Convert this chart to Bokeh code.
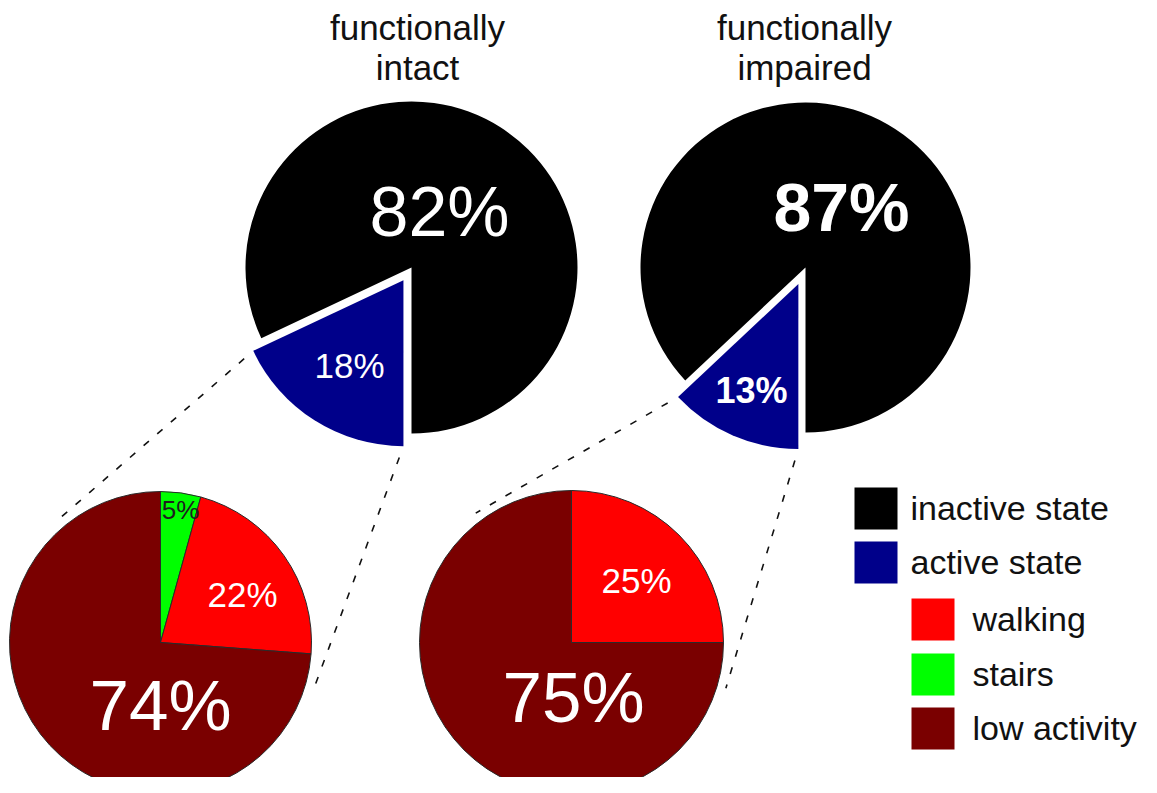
import math
from bokeh.plotting import figure
from bokeh.models import Range1d
from bokeh.core.properties import value
from bokeh.embed import file_html
from bokeh.resources import INLINE

# ---------------- data ----------------
group_titles = [["functionally", "intact"], ["functionally", "impaired"]]
inactive_pct = [82, 87]
active_pct = [18, 13]
inactive_text = ["82%", "87%"]
active_text = ["18%", "13%"]
label_bold = [False, True]

# breakdown of the active state, clockwise from 12 o'clock: stairs, walking, low activity
sub_names = ["stairs", "walking", "low activity"]
intact_sub = [4.3, 21.9, 73.8]
impaired_sub = [0.0, 25.0, 75.0]
intact_sub_text = ["5%", "22%", "74%"]
impaired_sub_text = ["", "25%", "75%"]

legend_names = ["inactive state", "active state", "walking", "stairs", "low activity"]

# ---------------- style ----------------
C_INACTIVE = "#000000"
C_ACTIVE = "#00008a"
C_WALK = "#ff0000"
C_STAIRS = "#00ff00"
C_LOW = "#7a0000"
sub_colors = [C_STAIRS, C_WALK, C_LOW]
legend_colors = [C_INACTIVE, C_ACTIVE, C_WALK, C_STAIRS, C_LOW]
FONT = value("Liberation Sans")

W, H = 1157, 793
PW, PH = W - 16, H - 16


def Y(py):
    return H - py


p = figure(width=PW, height=PH, output_backend="svg", toolbar_location=None,
           x_range=Range1d(0, PW), y_range=Range1d(H - PH, H), min_border=0)
p.axis.visible = False
p.grid.visible = False
p.outline_line_color = None
p.background_fill_color = "white"

# layout
top_centers = [(411, 267), (805, 267)]
top_r = [166, 165]
explode = [15, 18]
sub_centers = [(160, 642), (571, 642)]
sub_r = [151, 152]
main_label_pos = [(439, 211), (841, 206)]
main_label_size = ["70px", "68px"]
active_label_pos = [(349, 365), (751, 390)]
active_label_size = ["35px", "36px"]
sub_label_pos = [[(180, 509), (242, 594), (160, 705)], [(0, 0), (636, 580), (573, 697)]]
sub_label_size = ["26px", "35px", "71px"]
conn_angles = [(128.5, -17.5), (126.5, -16.5)]
title_x = [417, 804]
title_mid = [27, 67]

subs = [intact_sub, impaired_sub]
subs_text = [intact_sub_text, impaired_sub_text]

for g in range(2):
    cx, cy = top_centers[g]
    r = top_r[g]
    a_span = active_pct[g] / (inactive_pct[g] + active_pct[g]) * 360.0
    blue_start = -90.0
    blue_end = -90.0 - a_span
    # inactive (black) part
    p.wedge(x=[cx], y=[Y(cy)], radius=r, start_angle=math.radians(-90.0),
            end_angle=math.radians(360.0 + blue_end), direction="anticlock",
            fill_color=C_INACTIVE, line_color=None)
    # exploded active (blue) slice
    mid = math.radians(-90.0 - a_span / 2)
    bx = cx + explode[g] * math.cos(mid)
    by = Y(cy) + explode[g] * math.sin(mid)
    p.wedge(x=[bx], y=[by], radius=r, start_angle=math.radians(blue_start),
            end_angle=math.radians(blue_end), direction="clock",
            fill_color=C_ACTIVE, line_color=None)

    # sub pie
    sx, sy = sub_centers[g]
    sr = sub_r[g]
    vals = subs[g]
    tot = sum(vals)
    cum = 0.0
    for k, v in enumerate(vals):
        if v <= 0:
            continue
        a0 = 90.0 - cum / tot * 360.0
        a1 = 90.0 - (cum + v) / tot * 360.0
        p.wedge(x=[sx], y=[Y(sy)], radius=sr, start_angle=math.radians(a0),
                end_angle=math.radians(a1), direction="clock",
                fill_color=sub_colors[k], line_color="#2a2a2a", line_width=1)
        cum += v

    # connectors (dashed) from the blue slice corners to the sub pie
    corners = [(bx + r * math.cos(math.radians(blue_end)), by + r * math.sin(math.radians(blue_end))),
               (bx + r * math.cos(math.radians(blue_start)), by + r * math.sin(math.radians(blue_start)))]
    for (x0, y0), ang in zip(corners, conn_angles[g]):
        x1 = sx + (sr + 9) * math.cos(math.radians(ang))
        y1 = Y(sy) + (sr + 9) * math.sin(math.radians(ang))
        d = math.hypot(x1 - x0, y1 - y0)
        ux, uy = (x1 - x0) / d, (y1 - y0) / d
        gap = 12
        p.line(x=[x0 + gap * ux, x1], y=[y0 + gap * uy, y1], line_color="#111111",
               line_width=1.6, line_dash="7 11")

    # titles
    for li, line in enumerate(group_titles[g]):
        p.text(x=[title_x[g]], y=[Y(title_mid[li])], text=[line], text_font=FONT,
               text_font_size=value("35px"), text_color="#111111",
               text_align="center", text_baseline="middle")

    # labels in the top pie
    style = "bold" if label_bold[g] else "normal"
    lx, ly = main_label_pos[g]
    p.text(x=[lx], y=[Y(ly)], text=[inactive_text[g]], text_font=FONT,
           text_font_size=value(main_label_size[g]), text_font_style=style,
           text_color="white", text_align="center", text_baseline="middle")
    lx, ly = active_label_pos[g]
    p.text(x=[lx], y=[Y(ly)], text=[active_text[g]], text_font=FONT,
           text_font_size=value(active_label_size[g]), text_font_style=style,
           text_color="white", text_align="center", text_baseline="middle")

    # labels in the sub pie
    for k, t in enumerate(subs_text[g]):
        if not t:
            continue
        lx, ly = sub_label_pos[g][k]
        col = "#1e1e1e" if k == 0 else "white"
        p.text(x=[lx], y=[Y(ly)], text=[t], text_font=FONT,
               text_font_size=value(sub_label_size[k]), text_color=col,
               text_align="center", text_baseline="middle")

# legend
leg_left = [854, 854, 911, 911, 911]
leg_top = [487, 541, 598, 653, 707]
leg_text_x = [910, 910, 972, 972, 972]
leg_mid = [507, 561, 618, 673, 727]
SQ = 43
p.quad(left=leg_left, right=[l + SQ for l in leg_left],
       top=[Y(t) for t in leg_top], bottom=[Y(t + 42) for t in leg_top],
       fill_color=legend_colors, line_color=None)
p.text(x=leg_text_x, y=[Y(m) for m in leg_mid], text=legend_names, text_font=FONT,
       text_font_size=value("34px"), text_color="#111111",
       text_align="left", text_baseline="middle")

open("out.html", "w").write(file_html(p, INLINE))
